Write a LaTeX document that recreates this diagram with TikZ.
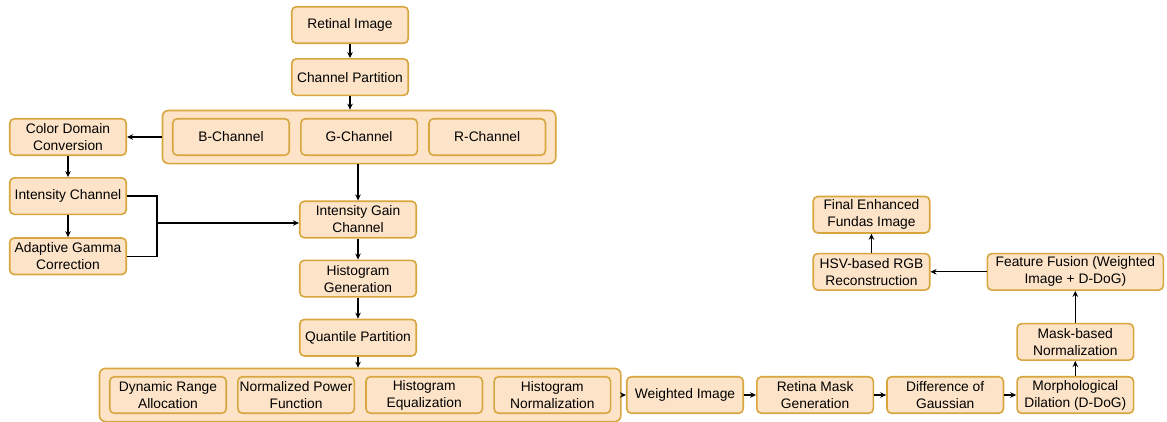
\documentclass[tikz,border=0pt]{standalone}
\usepackage{fontspec}
\setmainfont{Liberation Sans}
\usepackage{tikz}
\usetikzlibrary{fit, positioning, arrows.meta, backgrounds}
\definecolor{boxfill}{HTML}{FDE4C8}
\definecolor{boxline}{HTML}{D8A63E}

\begin{document}
\begin{tikzpicture}[x=1pt, y=-1pt, >={Stealth[length=6pt, width=5.5pt]},
    font=\fontsize{13.8}{17}\selectfont,
    stepb/.style={draw=boxline, fill=boxfill, line width=1.6pt, rounded corners=4.5pt, align=center,
                  inner xsep=1pt, inner ysep=2pt, minimum width=116.5pt, minimum height=36.5pt},
    grpb/.style ={draw=boxline, fill=boxfill, line width=1.6pt, rounded corners=6pt,
                  inner xsep=9.5pt, inner ysep=7.5pt},
    arr/.style  ={->, line width=1.3pt, black},
    ln/.style   ={line width=1.3pt, black}]
    \useasboundingbox (0,0) rectangle (1167,421);
    % main column
    \node[stepb] (img) at (350,25) {Retinal Image};
    \node[stepb, below=14pt of img] (part) {Channel Partition};
    % colour channels
    \node[stepb] (bch) at (231,137) {B-Channel};
    \node[stepb, right=10pt of bch] (gch) {G-Channel};
    \node[stepb, right=10pt of gch] (rch) {R-Channel};
    \begin{scope}[on background layer]
      \node[grpb, fit=(bch)(rch)] (chg) {};
    \end{scope}
    % intensity branch
    \node[stepb] (cdc) at (68,137) {Color Domain\\Conversion};
    \node[stepb, below=21pt of cdc] (ich) {Intensity Channel};
    \node[stepb, below=22pt of ich] (agc) {Adaptive Gamma\\Correction};
    \coordinate (jn) at (157,223);
    % histogram column
    \node[stepb] (igc) at (358,219.5) {Intensity Gain\\Channel};
    \node[stepb, below=21pt of igc] (hgen) {Histogram\\Generation};
    \node[stepb, below=21pt of hgen] (qp) {Quantile Partition};
    % quantile sub-steps
    \node[stepb] (dra) at (168,395) {Dynamic Range\\Allocation};
    \node[stepb, right=10pt of dra] (npf) {Normalized Power\\Function};
    \node[stepb, right=10pt of npf] (heq) {Histogram\\Equalization};
    \node[stepb, right=10pt of heq] (hnorm) {Histogram\\Normalization};
    \begin{scope}[on background layer]
      \node[grpb, fit=(dra)(hnorm)] (qg) {};
    \end{scope}
    % bottom row and output
    \node[stepb] (wimg) at (685,395) {Weighted Image};
    \node[stepb, right=12pt of wimg] (rmask) {Retina Mask\\Generation};
    \node[stepb, right=12pt of rmask] (dog) {Difference of\\Gaussian};
    \node[stepb, right=12pt of dog] (morph) {Morphological\\Dilation (D-DoG)};
    \node[stepb, above=15pt of morph] (maskn) {Mask-based\\Normalization};
    \node[stepb, above=32pt of maskn, minimum width=176pt] (ff) {Feature Fusion (Weighted\\Image + D-DoG)};
    \node[stepb, left=56pt of ff] (hsv) {HSV-based RGB\\Reconstruction};
    \node[stepb, above=19pt of hsv] (fin) {Final Enhanced\\Fundas Image};
    % arrows
    \draw[arr] (img) -- (part);
    \draw[arr] (part.south) -- (part.south |- chg.north);
    \draw[arr] (chg.west |- cdc) -- (cdc.east);
    \draw[arr] (cdc) -- (ich);
    \draw[arr] (ich) -- (agc);
    \draw[ln] (ich.east) -| (jn) |- (agc.east);
    \draw[arr] (jn) -- (jn -| igc.west);
    \draw[arr] (chg.south -| igc) -- (igc.north);
    \draw[arr] (igc) -- (hgen);
    \draw[arr] (hgen) -- (qp);
    \draw[arr] (qp.south) -- (qp.south |- qg.north);
    \draw[arr] (qg.east |- wimg) -- (wimg.west);
    \draw[arr] (wimg) -- (rmask);
    \draw[arr] (rmask) -- (dog);
    \draw[arr] (dog) -- (morph);
    \draw[arr] (morph) -- (maskn);
    \draw[arr] (maskn) -- (ff);
    \draw[arr] (ff) -- (hsv);
    \draw[arr] (hsv) -- (fin);
\end{tikzpicture}
\end{document}
